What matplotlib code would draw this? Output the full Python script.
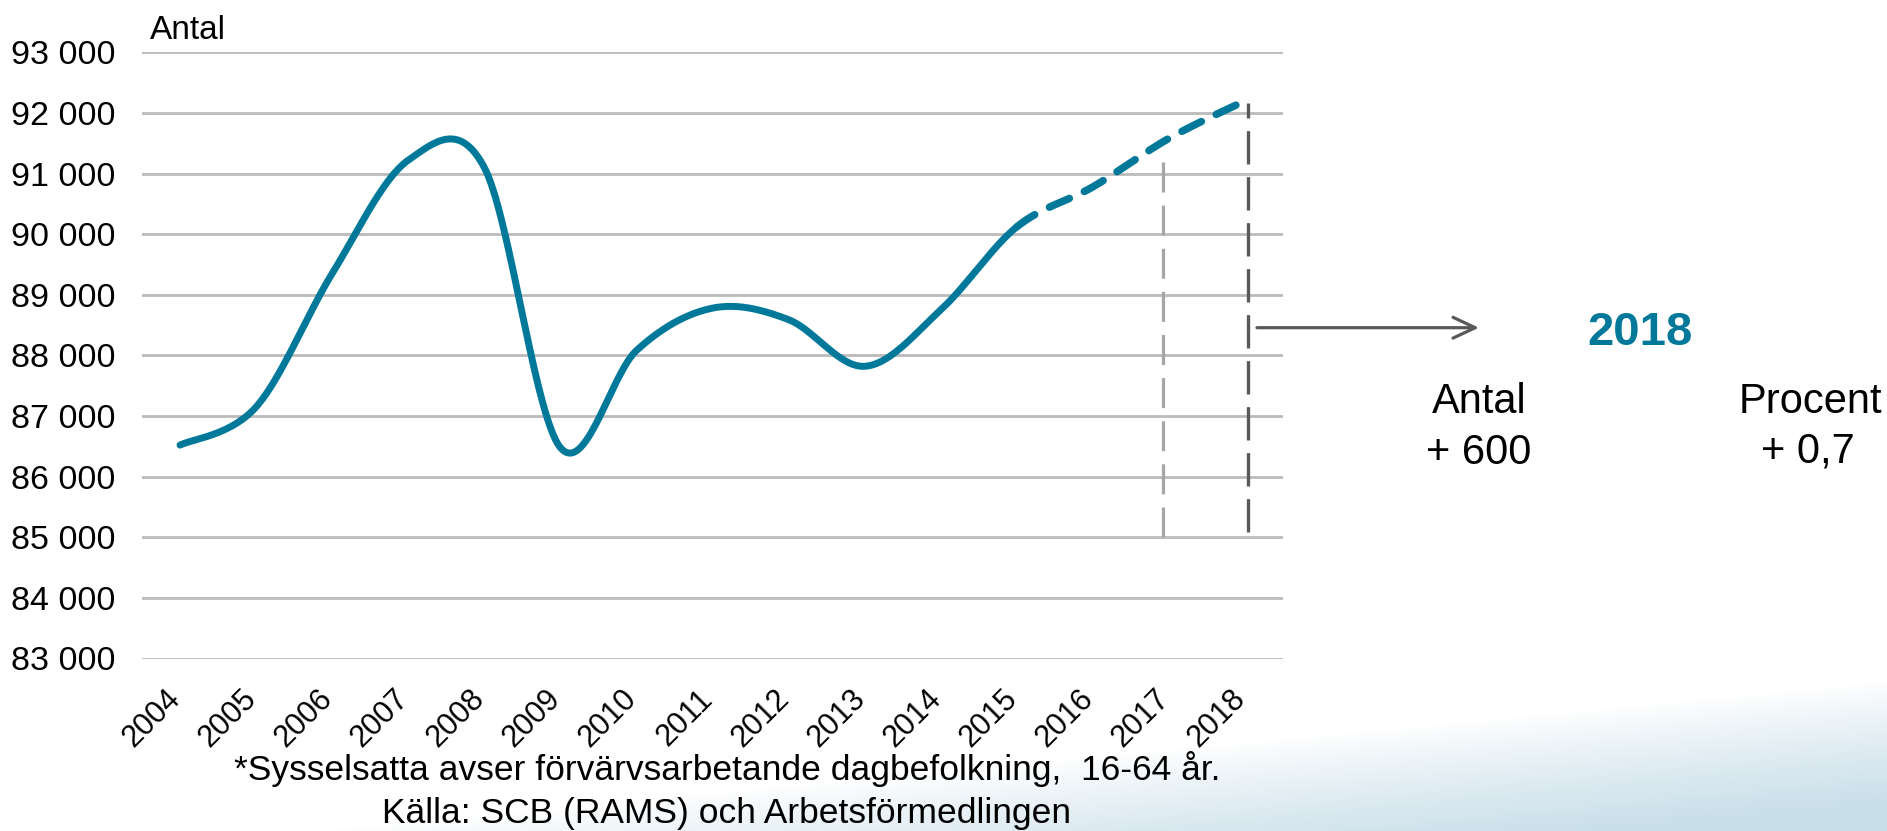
import numpy as np
import matplotlib
matplotlib.use("Agg")
import matplotlib.pyplot as plt
from matplotlib.patches import FancyArrowPatch, ArrowStyle
from matplotlib.transforms import ScaledTranslation

# ---------------- data ----------------
years = [str(y) for y in range(2004, 2019)]
values = [86520, 87150, 89350, 91220, 91100, 86480, 88080, 88780,
          88590, 87820, 88750, 90120, 90780, 91580, 92200]
forecast_start = "2015"
y_ticks = list(range(83000, 94000, 1000))
y_tick_labels = [f"{v:,}".replace(",", " ") for v in y_ticks]
unit_label = "Antal"
box_year = "2018"
box_count_label, box_count = "Antal", "+ 600"
box_pct_label, box_pct = "Procent", "+ 0,7"
note_lines = ["*Sysselsatta avser förvärvsarbetande dagbefolkning,  16-64 år.",
              "Källa: SCB (RAMS) och Arbetsförmedlingen"]
ref_bottom = 85000

TEAL = "#00789A"
W, H, DPI = 1887, 831, 100

plt.rcParams["font.family"] = ["Liberation Sans", "DejaVu Sans"]
fig = plt.figure(figsize=(W / DPI, H / DPI), dpi=DPI)

# ---------------- background gradient ----------------
bg = fig.add_axes([0, 0, 1, 1], zorder=-10)
xx, yy = np.meshgrid(np.arange(W), np.arange(H))
bnd = 860 - 0.095 * xx
t = np.clip((yy - bnd) / 120.0, 0, 1) ** 0.85
base = np.array([0.79, 0.875, 0.915])
img = (1 - t[..., None]) * 1.0 + t[..., None] * base
bg.imshow(img, aspect="auto", interpolation="bilinear")
bg.set_axis_off()

# ---------------- main axes ----------------
def fx(px):
    return px / W

def fy(py):
    return 1 - py / H

ax = fig.add_axes([fx(142), fy(658.5), (1283 - 142) / W, (658.5 - 52.3) / H])
ax.patch.set_visible(False)
x = np.arange(len(years))
ax.set_xlim(-0.5, len(years) - 0.5)
ax.set_ylim(y_ticks[0], y_ticks[-1])
for s in ax.spines.values():
    s.set_visible(False)
ax.set_yticks(y_ticks, y_tick_labels, fontsize=24.5)
ax.set_xticks(x, years, fontsize=22, rotation=45, ha="right", va="center",
              rotation_mode="anchor")
ax.tick_params(axis="both", length=0)
ax.tick_params(axis="y", pad=19)
ax.tick_params(axis="x", pad=26)
off = ScaledTranslation(-4 / DPI, 0, fig.dpi_scale_trans)
for lab in ax.get_xticklabels():
    lab.set_transform(lab.get_transform() + off)
ax.grid(axis="y", color="#BBBBBB", lw=2.0)
ax.set_axisbelow(True)

# ---------------- smoothed line (Catmull-Rom Bezier, like Excel) ----------------
P = ax.transData.transform(np.column_stack([x, values]))
N = len(P)
c_out = np.zeros_like(P)
c_in = np.zeros_like(P)
for i in range(N):
    prev = P[i - 1] if i > 0 else P[i]
    nxt = P[i + 1] if i < N - 1 else P[i]
    d = nxt - prev
    c_out[i] = P[i] + d / 6
    c_in[i] = P[i] - d / 6

tt = np.linspace(0, 1, 60)[:, None]


def segment(i):
    return ((1 - tt) ** 3 * P[i] + 3 * (1 - tt) ** 2 * tt * c_out[i]
            + 3 * (1 - tt) * tt ** 2 * c_in[i + 1] + tt ** 3 * P[i + 1])


k = years.index(forecast_start)
solid = np.vstack([segment(i) for i in range(k)])
dashed = np.vstack([segment(i) for i in range(k, N - 1)])
inv = ax.transData.inverted()
sd = inv.transform(solid)
dd = inv.transform(dashed)
ax.plot(sd[:, 0], sd[:, 1], color=TEAL, lw=5.0, solid_capstyle="round",
        solid_joinstyle="round", zorder=4)
ln, = ax.plot(dd[:, 0], dd[:, 1], color=TEAL, lw=5.4, dash_capstyle="round",
              zorder=4)
ln.set_dashes((2.9, 2.2))

# ---------------- reference vertical dashed lines ----------------
i17, i18 = years.index("2017"), years.index("2018")
l1, = ax.plot([i17 - 0.08, i17 - 0.08], [ref_bottom, values[i17] - 360],
              color="#A6A6A6", lw=2.3, zorder=3)
l1.set_dashes((9.4, 4.1))
l2, = ax.plot([i18 + 0.04, i18 + 0.04], [ref_bottom + 80, values[i18] - 40],
              color="#595959", lw=2.4, zorder=3)
l2.set_dashes((10, 3.8))

# ---------------- arrow + texts ----------------
arr = FancyArrowPatch((fx(1257), fy(327.7)), (fx(1479), fy(327.7)),
                      transform=fig.transFigure,
                      arrowstyle=ArrowStyle("->", head_length=1.6, head_width=0.75),
                      mutation_scale=10, lw=2.3, color="#595959",
                      shrinkA=0, shrinkB=0)
fig.add_artist(arr)

fig.text(fx(150), fy(39), unit_label, fontsize=24, va="baseline", ha="left")
fig.text(fx(1640), fy(328), box_year, fontsize=34, fontweight="bold",
         color=TEAL, ha="center", va="center_baseline")
fig.text(fx(1479), fy(413), box_count_label, fontsize=30, ha="center", va="baseline")
fig.text(fx(1479), fy(464), box_count, fontsize=30, ha="center", va="baseline")
fig.text(fx(1810), fy(413), box_pct_label, fontsize=30, ha="center", va="baseline")
fig.text(fx(1808), fy(463), box_pct, fontsize=30, ha="center", va="baseline")

fig.text(fx(727), fy(780), note_lines[0], fontsize=25.5, ha="center", va="baseline")
fig.text(fx(727), fy(823), note_lines[1], fontsize=25.5, ha="center", va="baseline")

fig.savefig("out.png", dpi=DPI)
